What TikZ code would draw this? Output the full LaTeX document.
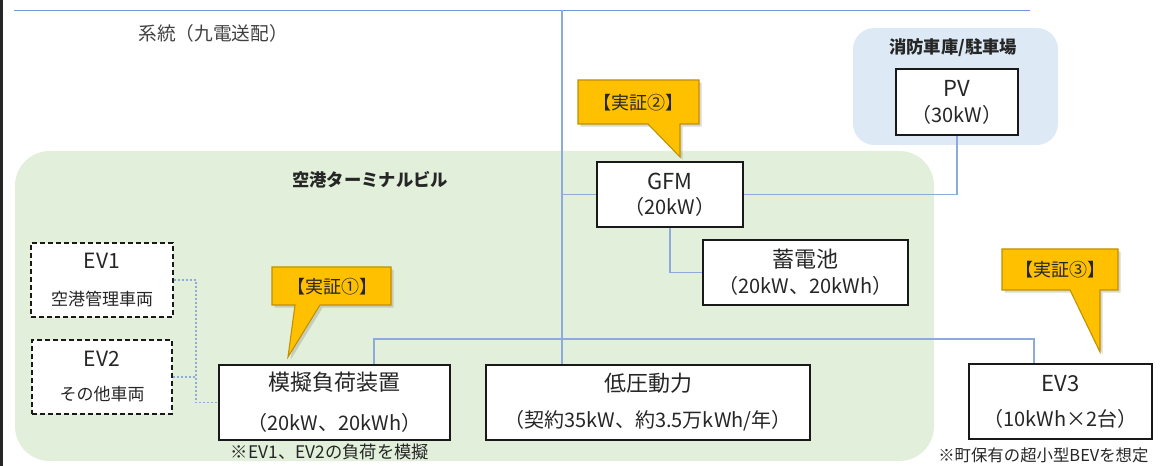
\documentclass[tikz,border=0pt]{standalone}
\usepackage{fontspec}
\setmainfont{Noto Sans CJK JP}
\usetikzlibrary{shadows}
\definecolor{grn}{HTML}{E2EFDA}
\definecolor{blu}{HTML}{DDE9F5}
\definecolor{wire}{HTML}{8EAADC}
\definecolor{wiretop}{HTML}{7098DA}
\definecolor{gold}{HTML}{FFC000}
\definecolor{golde}{HTML}{BF9000}
\definecolor{txt}{HTML}{262626}
\newcommand{\fsz}[2]{\fontsize{#1}{#2}\selectfont}
\tikzset{
  boxn/.style={draw=black!90, fill=white, line width=1.1pt, inner sep=0pt, align=center, text=txt},
  evbox/.style={boxn, dashed, dash pattern=on 3.5pt off 2.5pt},
  wireln/.style={draw=wire, line width=0.8pt},
  dotln/.style={draw=wire, line width=0.9pt, dash pattern=on 1.5pt off 1.5pt},
  callout/.style={fill=gold, draw=golde, line width=0.8pt, drop shadow={shadow xshift=2pt, shadow yshift=-2pt, opacity=0.3}},
  callt/.style={text=txt, font=\fsz{13.5pt}{15pt}},
  ttl/.style={text=txt, font=\fsz{13pt}{15pt}\bfseries}
}
\begin{document}
\begin{tikzpicture}[x=0.75pt,y=-0.75pt]
\useasboundingbox (0,0) rectangle (1160,466);
% regions
\fill[black!85] (0,0) rectangle (2.5,466);
\fill[grn, rounded corners=26pt] (15,151) rectangle (934,461);
\fill[blu, rounded corners=16pt] (853,28) rectangle (1058,145);
\node[ttl] (tterm) at (370,180) {空港ターミナルビル};
\node[ttl] (tfire) at (953,48) {消防車庫/駐車場};
\node[text=black!75, font=\fsz{14pt}{16pt}] (tgrid) at (213,33) {系統（九電送配）};
% top bus
\coordinate (tl) at (14,10.5);
\coordinate (tr) at (1030,10.5);
\coordinate (vtop) at (562,10.5);
\draw[draw=wiretop, line width=0.9pt] (tl) -- (tr);
% boxes
\node[evbox, minimum width=106.5pt, minimum height=55.5pt, font=\fsz{15.75pt}{27.75pt}] (ev1) at (102,280)
  {EV1\\{\fsz{12.75pt}{27.75pt}空港管理車両}};
\node[evbox, minimum width=105pt, minimum height=55.5pt, font=\fsz{15.75pt}{25.5pt}] (ev2) at (102,377)
  {EV2\\{\fsz{12.75pt}{25.5pt}その他車両}};
\node[boxn, minimum width=173.25pt, minimum height=56.25pt, font=\fsz{16.5pt}{30pt}] (sim) at (334.5,402.5)
  {模擬負荷装置\\{\fsz{15pt}{30pt}（20kW、20kWh）}};
\node[boxn, minimum width=243pt, minimum height=56.25pt, font=\fsz{16.5pt}{27pt}] (lv) at (648,402.5)
  {低圧動力\\{\fsz{15pt}{27pt}（契約35kW、約3.5万kWh/年）}};
\node[boxn, minimum width=137.25pt, minimum height=56.25pt, font=\fsz{16.5pt}{26.25pt}] (ev3) at (1060.5,401.5)
  {EV3\\{\fsz{15pt}{26.25pt}（10kWh×2台）}};
\node[boxn, minimum width=109.5pt, minimum height=48.75pt, font=\fsz{16.5pt}{18.75pt}] (gfm) at (670,194.5)
  {GFM\\{\fsz{15pt}{18.75pt}（20kW）}};
\node[boxn, minimum width=153.75pt, minimum height=48.75pt, font=\fsz{16.5pt}{19.5pt}] (bat) at (805.5,272.5)
  {蓄電池\\{\fsz{15pt}{19.5pt}（20kW、20kWh）}};
\node[boxn, minimum width=91.5pt, minimum height=49.5pt, font=\fsz{16.5pt}{19.5pt}] (pv) at (957,102)
  {PV\\{\fsz{15pt}{19.5pt}（30kW）}};
% wires
\draw[wireln] (vtop) -- (vtop |- lv.north);
\draw[wireln] (vtop |- gfm.west) -- (gfm.west);
\draw[wireln] (gfm.east) -| (pv.south);
\draw[wireln] (gfm.south) |- (bat.west);
\coordinate (busL) at (374,339);
\coordinate (busR) at (1034,339);
\draw[wireln] (sim.north -| busL) -- (busL) -- (busR) -- (busR |- ev3.north);
\coordinate (dj) at (196,280);
\draw[dotln] (ev1.east) -- (ev1.east -| dj) -- (dj |- sim.west) -- (sim.west);
\draw[dotln] (ev2.east) -- (ev2.east -| dj);
% callouts
\draw[callout] (578,80) -- (699,80) -- (699,124) -- (680,124) -- (680,157) -- (648,124) -- (578,124) -- cycle;
\node[callt] (c2) at (638,103) {【実証②】};
\draw[callout] (272,267) -- (391,267) -- (391,305) -- (320,305) -- (288,357) -- (295,305) -- (272,305) -- cycle;
\node[callt] (c1) at (332,287) {【実証①】};
\draw[callout] (1002,249) -- (1118,249) -- (1118,290) -- (1100,290) -- (1100,352) -- (1070,290) -- (1002,290) -- cycle;
\node[callt] (c3) at (1060,270) {【実証③】};
% notes
\node[text=txt, font=\fsz{13pt}{14pt}] (n1) at (330,452) {※EV1、EV2の負荷を模擬};
\node[text=txt, font=\fsz{12.3pt}{14pt}, anchor=west, inner sep=0pt] (n2) at (938,455) {※町保有の超小型BEVを想定};
\end{tikzpicture}
\end{document}
